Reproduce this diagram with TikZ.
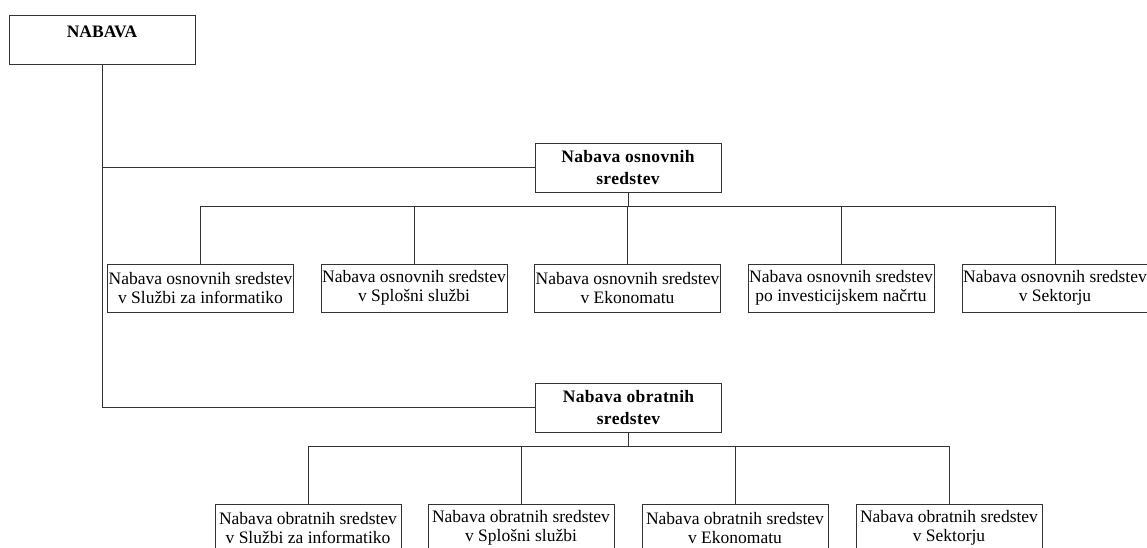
\documentclass[tikz,border=0pt]{standalone}
\usepackage{fontspec}
\setmainfont{Liberation Serif}
\begin{document}
\begin{tikzpicture}[x=1pt,y=-1pt,
  line width=0.9pt,
  box/.style={draw=black!80, fill=white, inner sep=0pt, minimum width=186pt,
    align=center, font=\fontsize{17.5}{19.5}\selectfont},
  unit/.style={box, minimum height=48pt},
  head/.style={box, minimum height=49pt,
    font=\fontsize{17.5}{21.5}\selectfont\bfseries\addfontfeature{LetterSpace=2}},
  link/.style={draw=black!80}]
\useasboundingbox (0,0) rectangle (1147,548);
\clip (0,0) rectangle (1147,548);

% top-level box with its title near the top edge
\node[box, minimum height=49pt] (nabava) at (102,39.5) {};
\node[anchor=base, font=\fontsize{17.5}{20}\selectfont\bfseries] (nabavat) at (102,38) {NABAVA};

% group headings
\node[head] (osn) at (628,167.5) {Nabava osnovnih\\sredstev};
\node[head] (obr) at (628.5,407.5) {Nabava obratnih\\sredstev};

% fixed assets units
\node[unit] (o1) at (200.5,288) {Nabava osnovnih sredstev\\v Službi za informatiko};
\node[unit] (o2) at (414,288) {Nabava osnovnih sredstev\\v Splošni službi};
\node[unit] (o3) at (627.5,288) {Nabava osnovnih sredstev\\v Ekonomatu};
\node[unit] (o4) at (841,288) {Nabava osnovnih sredstev\\po investicijskem načrtu};
\node[unit] (o5) at (1055,288) {Nabava osnovnih sredstev\\v Sektorju};

% current assets units
\node[unit] (b1) at (308,528) {Nabava obratnih sredstev\\v Službi za informatiko};
\node[unit] (b2) at (521,528) {Nabava obratnih sredstev\\v Splošni službi};
\node[unit] (b3) at (735,528) {Nabava obratnih sredstev\\v Ekonomatu};
\node[unit] (b4) at (949,528) {Nabava obratnih sredstev\\v Sektorju};

% trunk from the top box to both groups
\draw[link] (nabava.south) |- (obr.west);
\draw[link] (nabava.south |- osn.west) -- (osn.west);

% buses to the units
\foreach \c in {o1,o2,o3,o4,o5}
  \draw[link] (osn.south) -- ++(0,14) -| (\c.north);
\foreach \c in {b1,b2,b3,b4}
  \draw[link] (obr.south) -- ++(0,14) -| (\c.north);
\end{tikzpicture}
\end{document}
